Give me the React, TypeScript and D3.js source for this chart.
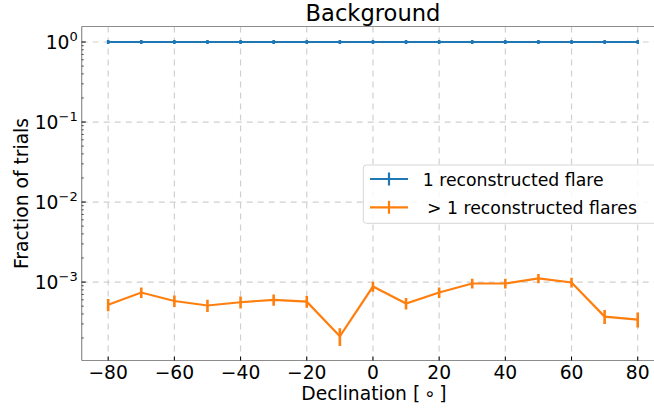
import React from 'react';
import * as d3 from 'd3';

const declinations = [-80, -70, -60, -50, -40, -30, -20, -10, 0, 10, 20, 30, 40, 50, 60, 70, 80];
const oneFlare = [1, 1, 1, 1, 1, 1, 1, 1, 1, 1, 1, 1, 1, 1, 1, 1, 1];
const oneFlareErr = [0.02, 0.02, 0.02, 0.02, 0.02, 0.02, 0.02, 0.02, 0.02, 0.02, 0.02, 0.02, 0.02, 0.02, 0.02, 0.02, 0.02];
const multiFlare = [5.2e-4, 7.4e-4, 5.8e-4, 5.1e-4, 5.6e-4, 6.0e-4, 5.7e-4, 2.1e-4, 8.8e-4, 5.4e-4, 7.4e-4, 9.6e-4, 9.6e-4, 1.11e-3, 9.9e-4, 3.7e-4, 3.4e-4];
const multiFlareErr = [7e-5, 8.5e-5, 7.5e-5, 7e-5, 7.5e-5, 7.5e-5, 7.5e-5, 4.5e-5, 9.5e-5, 7e-5, 8.5e-5, 1e-4, 1e-4, 1.05e-4, 1e-4, 6e-5, 6e-5];
const xTicks = [-80, -60, -40, -20, 0, 20, 40, 60, 80];
const yTickExps = [0, -1, -2, -3];
const legendLabels = ['1 reconstructed flare', '> 1 reconstructed flares'];
const colors = ['#1f77b4', '#ff7f0e'];

const W = 654;
const H = 410;
const left = 81.7;
const right = 664.2;
const top = 26.5;
const bottom = 360.5;

const font = 'DejaVu Sans, sans-serif';

export default function App() {
  const x = d3.scaleLinear().domain([-88, 88]).range([left, right]);
  const y = d3.scaleLog().domain([Math.pow(10, -3.98), Math.pow(10, 0.194)]).range([bottom, top]);

  const line = d3
    .line<number>()
    .x((_, i) => x(declinations[i]))
    .y((d) => y(d));

  // minor log ticks 2..9 per decade
  const minorTicks: number[] = [];
  for (let e = -4; e <= 0; e++) {
    for (let m = 2; m <= 9; m++) {
      const v = m * Math.pow(10, e);
      if (v > y.domain()[0] && v < y.domain()[1]) minorTicks.push(v);
    }
  }

  const series = [
    { vals: oneFlare, errs: oneFlareErr, color: colors[0] },
    { vals: multiFlare, errs: multiFlareErr, color: colors[1] },
  ];

  return (
    <svg
      width={W}
      height={H}
      style={{ position: 'absolute', left: 0, top: 0, background: '#fff' }}
      fontFamily={font}
    >
      <defs>
        <clipPath id="plot">
          <rect x={left} y={top} width={right - left} height={bottom - top} />
        </clipPath>
      </defs>

      {/* grid */}
      <g stroke="#d0d0d0" strokeWidth={1.2} strokeDasharray="6,5">
        {xTicks.map((t) => (
          <line key={'gx' + t} x1={x(t)} x2={x(t)} y1={top} y2={bottom} />
        ))}
        {yTickExps.map((e) => (
          <line key={'gy' + e} x1={left} x2={right} y1={y(Math.pow(10, e))} y2={y(Math.pow(10, e))} />
        ))}
      </g>

      {/* series with error bars */}
      <g clipPath="url(#plot)">
        {series.map((s, si) => (
          <g key={si}>
            <path d={line(s.vals) || ''} fill="none" stroke={s.color} strokeWidth={2.2} />
            {s.vals.map((v, i) => (
              <line
                key={i}
                x1={x(declinations[i])}
                x2={x(declinations[i])}
                y1={y(v + s.errs[i])}
                y2={y(v - s.errs[i])}
                stroke={s.color}
                strokeWidth={2.6}
                strokeLinecap="square"
              />
            ))}
          </g>
        ))}
      </g>

      {/* spines */}
      <g stroke="#8c8c8c" strokeWidth={1.2} fill="none">
        <line x1={left} x2={left} y1={top} y2={bottom} />
        <line x1={left} x2={right} y1={bottom} y2={bottom} />
        <line x1={left} x2={right} y1={top} y2={top} />
      </g>

      {/* ticks */}
      <g stroke="#000" strokeWidth={1}>
        {xTicks.map((t) => (
          <line key={'tx' + t} x1={x(t)} x2={x(t)} y1={bottom} y2={bottom - 4} />
        ))}
        {yTickExps.map((e) => (
          <line key={'ty' + e} x1={left} x2={left + 4} y1={y(Math.pow(10, e))} y2={y(Math.pow(10, e))} />
        ))}
        {minorTicks.map((v, i) => (
          <line key={'tm' + i} x1={left} x2={left + 2} y1={y(v)} y2={y(v)} strokeWidth={0.7} />
        ))}
      </g>

      {/* tick labels */}
      <g fontSize={18.7} fill="#000">
        {xTicks.map((t) => (
          <text key={'lx' + t} x={x(t)} y={bottom + 18.5} textAnchor="middle">
            {t < 0 ? '\u2212' + Math.abs(t) : t}
          </text>
        ))}
        {yTickExps.map((e) => (
          <text key={'ly' + e} x={left - 4} y={y(Math.pow(10, e)) + 7} textAnchor="end">
            10
            <tspan dy={-8} fontSize={13}>
              {e === 0 ? '0' : '\u2212' + Math.abs(e)}
            </tspan>
          </text>
        ))}
      </g>

      {/* labels */}
      <text x={373} y={20.7} textAnchor="middle" fontSize={22.6}>
        Background
      </text>
      <text x={374} y={399.5} textAnchor="middle" fontSize={18.7}>
        {'Declination [\u2009\u2218\u2009]'}
      </text>
      <text
        transform={`translate(28, ${(top + bottom) / 2}) rotate(-90)`}
        textAnchor="middle"
        fontSize={18.7}
      >
        Fraction of trials
      </text>

      {/* legend */}
      <g>
        <rect
          x={363.3}
          y={165}
          width={300}
          height={58.3}
          rx={3}
          fill="#fff"
          fillOpacity={0.85}
          stroke="#d6d6d6"
          strokeWidth={1}
        />
        {legendLabels.map((lab, i) => {
          const cy = 179 + i * 28.3;
          return (
            <g key={lab}>
              <line x1={370} x2={408} y1={cy} y2={cy} stroke={colors[i]} strokeWidth={2.2} />
              <line x1={389} x2={389} y1={cy - 6.5} y2={cy + 6.5} stroke={colors[i]} strokeWidth={2.2} />
              <text x={i === 0 ? 422.7 : 427} y={cy + 6.5} fontSize={17.3}>
                {lab}
              </text>
            </g>
          );
        })}
      </g>
    </svg>
  );
}
